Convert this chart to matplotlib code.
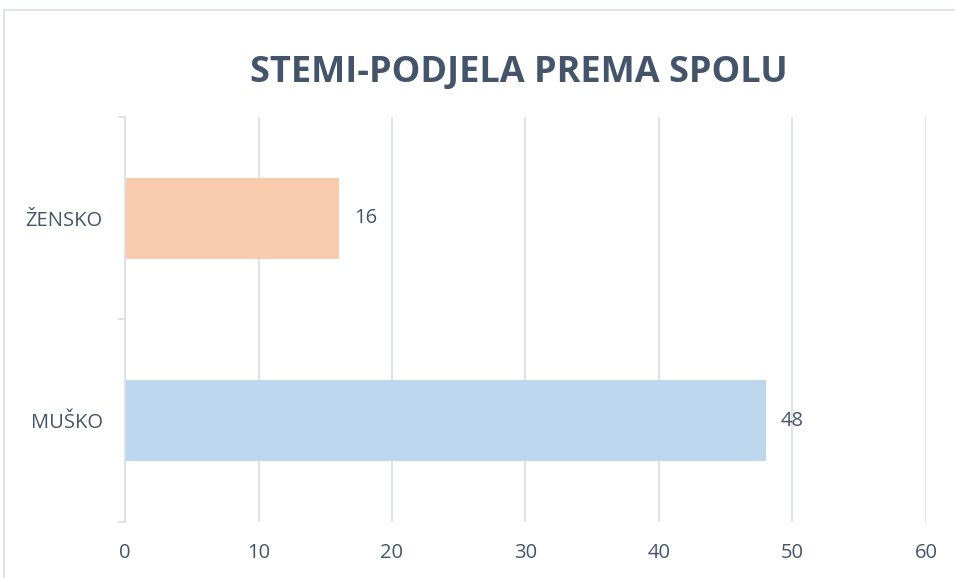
import matplotlib.pyplot as plt
from matplotlib.patches import Rectangle

categories = ['MUŠKO', 'ŽENSKO']
values = [48, 16]
colors = ['#BDD7EE', '#F8CBAD']
xticks = [0, 10, 20, 30, 40, 50, 60]

text_col = '#44546A'
grid_col = '#D9DEE6'

plt.rcParams['font.family'] = ['Open Sans', 'DejaVu Sans']

fig = plt.figure(figsize=(9.55, 5.78), dpi=100)
ax = fig.add_axes([0.1309, 0.0969, 0.8387, 0.7007])

# outer chart border (only top and left visible in the original crop)
fig.patches.append(Rectangle((4 / 955, -0.05), 1.1, 1 - 10 / 578 + 0.05,
                             transform=fig.transFigure, fill=False,
                             edgecolor='#D9DEE6', linewidth=1.2))

y = list(range(len(categories)))
ax.barh(y, values, height=0.4, color=colors, zorder=2)

for yi, v in zip(y, values):
    ax.annotate(str(v), (v, yi), xytext=(11, 0), textcoords='offset points',
                va='center', ha='left', fontsize=14.5, color=text_col)

ax.set_xlim(0, 60)
ax.set_ylim(-0.5, 1.5)
ax.set_xticks(xticks)
ax.set_xticklabels([str(t) for t in xticks])
ax.set_yticks(y)
ax.set_yticklabels(categories)
ax.set_yticks([-0.5, 0.5, 1.5], minor=True)

ax.grid(axis='x', color=grid_col, linewidth=1.2, zorder=0)
ax.tick_params(axis='x', length=0, pad=15, labelsize=14.5, labelcolor=text_col)
ax.tick_params(axis='y', which='major', length=0, pad=16, labelsize=14.5,
               labelcolor=text_col)
ax.tick_params(axis='y', which='minor', length=5, color=grid_col, width=1.2)

for s in ['top', 'right', 'bottom']:
    ax.spines[s].set_visible(False)
ax.spines['left'].set_color(grid_col)
ax.spines['left'].set_linewidth(1.2)

fig.text(0.5435, 0.874, 'STEMI-PODJELA PREMA SPOLU', ha='center', va='center',
         fontsize=26, fontweight='bold', color=text_col)

fig.savefig('out.png', dpi=100)
